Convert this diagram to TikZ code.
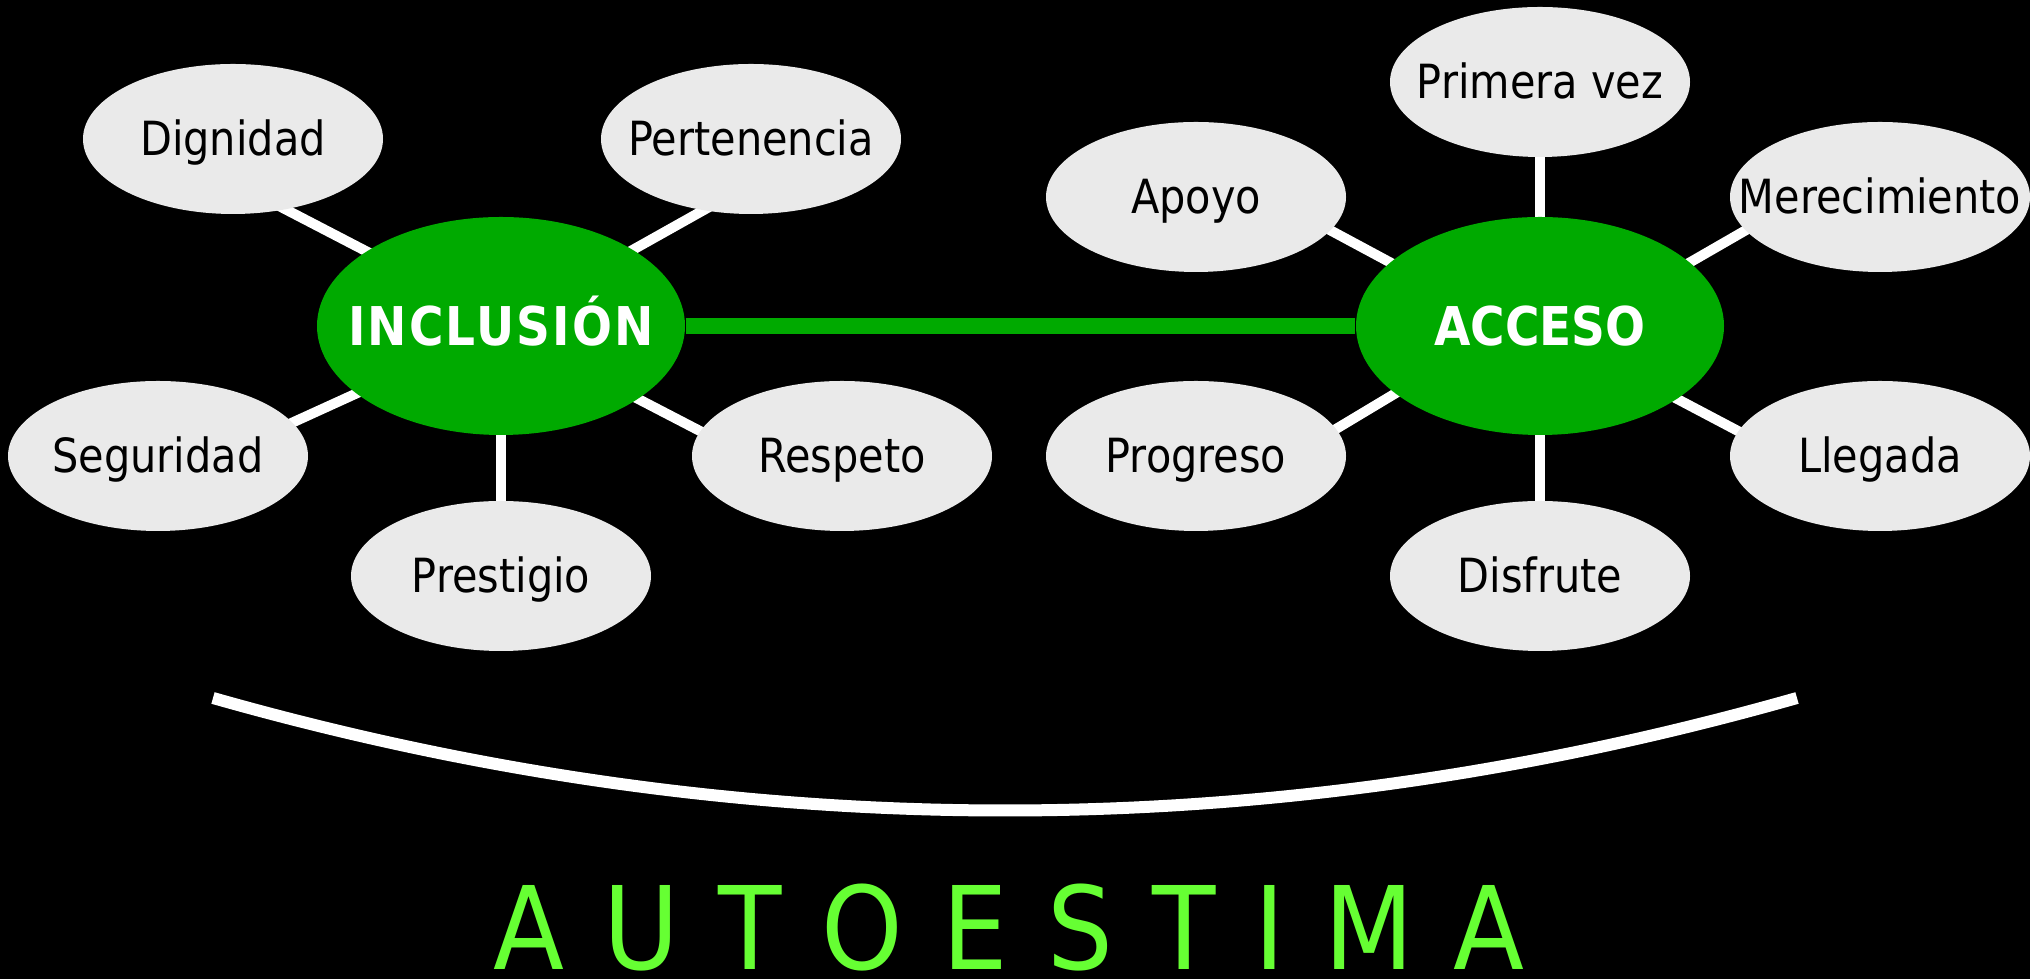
\documentclass[tikz,border=0pt]{standalone}
\usepackage{fontspec}
\setmainfont{DejaVu Sans}
\newfontfamily\satfont[FakeStretch=0.88]{DejaVu Sans}
\newfontfamily\titlefont[FakeStretch=0.9,LetterSpace=34]{DejaVu Sans}
\usetikzlibrary{shapes.geometric}
\definecolor{hubgreen}{RGB}{0,170,0}
\definecolor{satgray}{RGB}{234,234,234}
\definecolor{titlegreen}{RGB}{102,255,51}
\pgfdeclarelayer{back}
\pgfdeclarelayer{links}
\pgfsetlayers{back,links,main}
\begin{document}
\begin{tikzpicture}[x=0.1mm,y=-0.1mm,
	sat/.style={ellipse,fill=satgray,minimum width=30mm,minimum height=15mm,inner sep=0pt,
		text height=3.4mm,text depth=0pt,font=\satfont\fontsize{13.4}{15}\selectfont},
	hub/.style={ellipse,fill=hubgreen,minimum width=36.8mm,minimum height=21.8mm,inner sep=0pt,
		text=white,text height=3.9mm,text depth=0pt,font=\satfont\bfseries\fontsize{15.2}{18}\selectfont},
	link/.style={white,line width=1mm,shorten <=-2mm,shorten >=-2mm}]
		\useasboundingbox (0,0) rectangle (2030,979);
		\begin{pgfonlayer}{back}
		\fill[black] (0,0) rectangle (2030,979);
		\end{pgfonlayer}
		
		\node[hub] (incl) at (501,326) {\makebox[0pt]{\addfontfeature{LetterSpace=4}INCLUSIÓN}};
		\node[hub] (acc) at (1540,326) {\makebox[0pt]{ACCESO}};
		
		\node[sat] (dign) at (233,139) {\makebox[0pt]{Dignidad}};
		\node[sat] (pert) at (751,139) {\makebox[0pt]{Pertenencia}};
		\node[sat] (segu) at (158,456) {\makebox[0pt]{Seguridad}};
		\node[sat] (resp) at (842,456) {\makebox[0pt]{Respeto}};
		\node[sat] (prest) at (501,576) {\makebox[0pt]{Prestigio}};
		\node[sat] (apoyo) at (1196,197) {\makebox[0pt]{Apoyo}};
		\node[sat] (prim) at (1540,82) {\makebox[0pt]{Primera vez}};
		\node[sat] (mere) at (1880,197) {\makebox[0pt]{Merecimiento}};
		\node[sat] (prog) at (1196,456) {\makebox[0pt]{Progreso}};
		\node[sat] (lleg) at (1880,456) {\makebox[0pt]{Llegada}};
		\node[sat] (disf) at (1540,576) {\makebox[0pt]{Disfrute}};
		
		\begin{pgfonlayer}{links}
		\draw[link] (incl.151) -- (dign.-53);
		\draw[link] (incl.30) -- (pert.-124);
		\draw[link] (incl.205) -- (segu.14);
		\draw[link] (incl.-28) -- (resp.170);
		\draw[link] (incl.south) -- (prest.north);
		\draw[link] (acc.157) -- (apoyo.-14);
		\draw[link] (acc.north) -- (prim.south);
		\draw[link] (acc.23) -- (mere.194);
		\draw[link] (acc.205) -- (prog.11);
		\draw[link] (acc.-28) -- (lleg.170);
		\draw[link] (acc.south) -- (disf.north);
		\draw[hubgreen,line width=1.6mm] (incl.east) -- (acc.west);
		\end{pgfonlayer}
		
		\coordinate (lb) at (213,698);
		\coordinate (rb) at (1797,698);
		\draw[white,line width=1.2mm] (lb) .. controls (741,848) and (1269,848) .. (rb);
		
		\node[anchor=base west,inner sep=0pt,text=titlegreen,font=\titlefont\fontsize{32.8}{36}\selectfont] (titulo) at (493,970) {AUTOESTIMA};
		
\end{tikzpicture}
\end{document}
